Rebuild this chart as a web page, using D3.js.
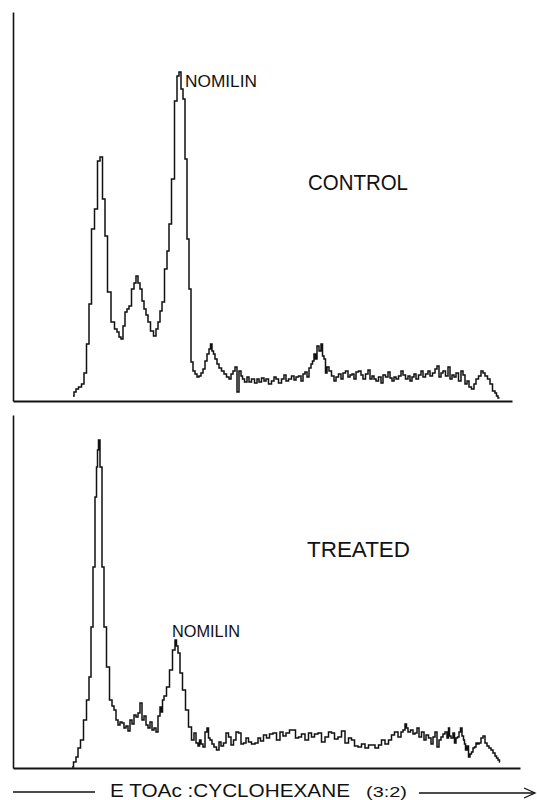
<!DOCTYPE html>
<html>
<head>
<meta charset="utf-8">
<script src="https://cdn.jsdelivr.net/npm/d3@7"></script>
<style>
  html, body { margin: 0; padding: 0; background: #fff; }
  svg { display: block; }
  text { font-family: "Liberation Sans", Arial, sans-serif; fill: #111; }
</style>
</head>
<body>
<svg id="chart" width="537" height="800"></svg>
<script>
// ---- DATA (retention position, detector response) ----
const controlX = [60,62,64,67,70,72,75,77,80,83,86,88,91,93,96,100,103,105,107,109,111,113,115,117,120,122,124,126,128,130,132,134,136,139,142,144,146,148,150,153,155,157,160,163,165,167,169,171,173,175,177,179,181,183,185,187,189,191,193,195,197,198,200,201,203,205,207,210,212,215,217,219,221,223,225,227,229,230,233,235,237,240,243,245,247,250,252,254,257,260,262,264,267,270,272,274,277,280,282,284,287,289,291,293,295,297,299,300,302,303,305,307,309,310,312,313,315,317,320,322,324,327,329,331,334,336,338,340,342,344,347,349,351,354,356,358,360,362,364,367,369,371,374,376,378,380,382,384,387,389,391,394,396,398,400,402,404,407,409,411,414,416,418,421,423,425,427,429,431,434,436,438,440,442,444,447,449,451,453,455,457,460,462,464,467,469,471,473,476,478,481,483,484,486,487];
const controlY = [5,9,12,14,17,28,57,97,172,192,240,244,202,165,109,79,72,69,64,62,75,89,92,95,112,118,125,118,112,100,92,86,79,70,65,72,79,90,99,132,150,177,222,300,325,329,312,302,242,162,112,39,30,27,24,25,28,32,40,47,52,57,50,47,42,37,33,30,27,24,22,27,30,34,9,30,25,22,19,24,19,22,18,22,19,23,20,22,17,20,24,22,18,22,26,20,22,25,21,24,25,20,27,29,24,33,37,40,47,42,55,50,57,45,42,28,34,30,25,20,24,27,22,28,30,24,26,27,22,29,30,26,22,27,31,22,25,22,20,24,18,26,24,29,23,20,24,22,25,30,26,22,25,20,24,27,22,26,30,24,27,30,25,28,32,35,24,28,30,25,34,22,26,24,28,20,30,26,17,20,14,12,17,22,25,30,28,25,22,17,10,8,5,3];

const treatedX = [59,62,64,66,69,72,75,77,79,81,83,84,85,86,88,90,92,95,98,100,102,104,106,108,110,112,114,116,118,120,122,124,126,128,130,132,134,136,138,140,142,144,146,148,149,150,152,155,158,161,163,164,166,168,171,174,177,180,182,184,186,187,189,191,193,195,196,198,200,202,205,207,209,212,214,217,219,222,224,227,229,232,234,237,240,244,246,249,252,255,258,262,265,269,271,275,278,281,284,287,290,294,297,300,303,307,310,314,317,320,323,327,330,334,337,340,343,347,350,354,357,360,364,367,370,374,377,380,383,387,389,391,393,394,396,399,401,403,405,407,410,412,414,417,419,421,423,425,427,429,431,433,435,436,437,439,441,442,444,445,447,448,450,451,452,453,455,456,458,459,461,462,464,465,467,469,471,473,475,477,479,481,483,484,486,487];
const treatedY = [1,6,11,20,28,48,68,91,141,201,271,301,318,328,301,201,141,101,68,62,58,48,43,46,45,40,42,37,48,44,53,51,55,65,48,52,43,40,46,38,40,36,52,61,56,68,72,81,98,118,128,122,115,95,78,58,41,28,35,25,22,28,24,21,36,40,30,28,24,21,18,26,22,25,35,31,23,28,36,35,24,25,30,26,24,25,30,27,33,30,34,35,28,36,32,35,38,38,30,31,34,28,35,31,34,35,26,31,36,35,29,31,37,25,30,28,22,21,24,20,23,23,20,23,28,24,28,33,36,31,36,38,44,40,36,38,34,35,40,31,36,28,33,30,24,31,36,21,28,31,34,36,30,40,32,30,35,25,30,31,36,40,32,28,24,18,22,11,14,16,20,21,25,24,25,30,32,25,22,20,18,15,12,10,8,6];

const panels = [
  { name: "CONTROL", xs: controlX, ys: controlY },
  { name: "TREATED", xs: treatedX, ys: treatedY }
];
const axisLabel = "E TOAc :CYCLOHEXANE";
const axisLabelRatio = "(3:2)";

// ---- LAYOUT ----
const svg = d3.select("#chart");
const xScale = d3.scaleLinear().domain([0, 500]).range([13, 513]);
const layouts = [
  { top: 12, base: 401, ymax: 389, xEnd: 512 },
  { top: 415, base: 768, ymax: 353, xEnd: 520 }
];
const labelPos = [
  { lx: 308, ly: 190, lw: 100, nx: 185, ny: 87, nw: 72, nfs: 16 },
  { lx: 307, ly: 557, lw: 103, nx: 172, ny: 637, nw: 68, nfs: 16 }
];

panels.forEach((p, i) => {
  const L = layouts[i];
  const y = d3.scaleLinear().domain([0, L.ymax]).range([L.base, L.top]);
  const xAx = d3.scaleLinear().domain([0, 1]).range([13, L.xEnd]);

  const g = svg.append("g");
  g.append("g").attr("transform", `translate(13,0)`)
    .call(d3.axisLeft(y).tickValues([]).tickSizeOuter(0))
    .call(a => a.select(".domain").attr("stroke", "#111").attr("stroke-width", 1.6));
  g.append("g").attr("transform", `translate(0,${L.base})`)
    .call(d3.axisBottom(xAx).tickValues([]).tickSizeOuter(0))
    .call(a => a.select(".domain").attr("stroke", "#111").attr("stroke-width", 2.2));

  const data = p.xs.map((x, k) => [x, p.ys[k]]);
  const line = d3.line().x(d => xScale(d[0])).y(d => y(d[1])).curve(d3.curveStep);
  g.append("path").datum(data)
    .attr("d", line)
    .attr("fill", "none")
    .attr("stroke", "#111")
    .attr("stroke-width", 1.5)
    .attr("stroke-linejoin", "miter");

  const lp = labelPos[i];
  g.append("text").attr("x", lp.lx).attr("y", lp.ly)
    .attr("font-size", 22)
    .attr("textLength", lp.lw).attr("lengthAdjust", "spacingAndGlyphs")
    .text(p.name);
  g.append("text").attr("x", lp.nx).attr("y", lp.ny)
    .attr("font-size", lp.nfs)
    .attr("textLength", lp.nw).attr("lengthAdjust", "spacingAndGlyphs")
    .text("NOMILIN");
});

// ---- bottom axis label with arrows ----
const lab = svg.append("g");
lab.append("line").attr("x1", 13).attr("x2", 95).attr("y1", 792).attr("y2", 792)
  .attr("stroke", "#111").attr("stroke-width", 1.3);
lab.append("text").attr("x", 110).attr("y", 797).attr("font-size", 18)
  .attr("textLength", 240).attr("lengthAdjust", "spacingAndGlyphs")
  .text(axisLabel);
lab.append("text").attr("x", 366).attr("y", 797).attr("font-size", 14)
  .attr("textLength", 41).attr("lengthAdjust", "spacingAndGlyphs")
  .text(axisLabelRatio);
lab.append("line").attr("x1", 419).attr("x2", 534).attr("y1", 793).attr("y2", 793)
  .attr("stroke", "#111").attr("stroke-width", 1.3);
lab.append("path").attr("d", "M524,788 L535,793 L524,798")
  .attr("fill", "none").attr("stroke", "#111").attr("stroke-width", 1.3);
</script>
</body>
</html>
